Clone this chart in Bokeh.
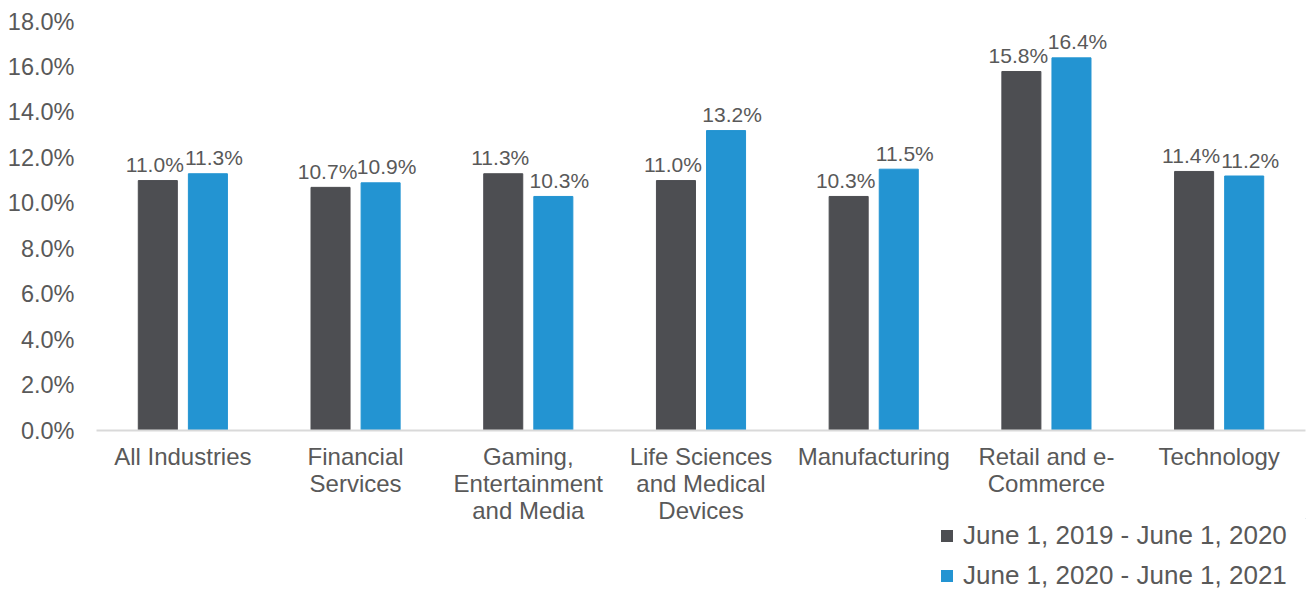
from bokeh.plotting import figure
from bokeh.models import ColumnDataSource, Legend, LegendItem, NumeralTickFormatter, FixedTicker, Range1d
from bokeh.layouts import column
from bokeh.transform import dodge
from bokeh.core.properties import value
from bokeh.embed import file_html
from bokeh.resources import INLINE

categories = ["All Industries", "Financial\nServices", "Gaming,\nEntertainment\nand Media",
              "Life Sciences\nand Medical\nDevices", "Manufacturing", "Retail and e-\nCommerce", "Technology"]
series_2019_2020 = [11.0, 10.7, 11.3, 11.0, 10.3, 15.8, 11.4]
series_2020_2021 = [11.3, 10.9, 10.3, 13.2, 11.5, 16.4, 11.2]
series_names = ["June 1, 2019 - June 1, 2020", "June 1, 2020 - June 1, 2021"]
y_ticks = [0, 2, 4, 6, 8, 10, 12, 14, 16, 18]

DARK = "#4d4e52"
BLUE = "#2394d2"
TXT = "#595959"
FONT = "Liberation Sans"

src = ColumnDataSource(dict(
    cat=categories,
    a=series_2019_2020,
    b=series_2020_2021,
    la=[f"{v:.1f}%" for v in series_2019_2020],
    lb=[f"{v:.1f}%" for v in series_2020_2021],
))

p = figure(x_range=categories, y_range=(0, 18), width=1307, height=528,
           output_backend="svg", toolbar_location=None,
           min_border_left=96, min_border_right=2, min_border_top=21, min_border_bottom=98)
p.outline_line_color = None
p.xgrid.grid_line_color = None
p.ygrid.grid_line_color = None
p.background_fill_color = "white"
p.border_fill_color = "white"

p.vbar(x=dodge("cat", -0.145, range=p.x_range), top="a", width=0.226, source=src,
       fill_color=DARK, line_color=DARK)
p.vbar(x=dodge("cat", 0.145, range=p.x_range), top="b", width=0.226, source=src,
       fill_color=BLUE, line_color=BLUE)

p.text(x=dodge("cat", -0.145, range=p.x_range), y="a", text="la", source=src,
       text_align="center", text_baseline="alphabetic", y_offset=-16, x_offset=-3,
       text_font=value(FONT), text_font_size="21px", text_color=TXT)
p.text(x=dodge("cat", 0.145, range=p.x_range), y="b", text="lb", source=src,
       text_align="center", text_baseline="alphabetic", y_offset=-16, x_offset=6,
       text_font=value(FONT), text_font_size="21px", text_color=TXT)

# axes
p.yaxis.ticker = FixedTicker(ticks=y_ticks)
p.yaxis.formatter = NumeralTickFormatter(format="0.0")
p.yaxis.major_label_overrides = {t: f"{t:.1f}%" for t in y_ticks}
p.yaxis.axis_line_color = None
p.yaxis.major_tick_line_color = None
p.yaxis.minor_tick_line_color = None
p.yaxis.major_label_standoff = 16
p.yaxis.major_label_text_font = FONT
p.yaxis.major_label_text_font_size = "23.5px"
p.yaxis.major_label_text_color = TXT

p.xaxis.axis_line_color = "#d9d9d9"
p.xaxis.axis_line_width = 2
p.xaxis.major_tick_line_color = None
p.xaxis.minor_tick_line_color = None
p.xaxis.major_label_standoff = 6
p.xaxis.major_label_text_font = FONT
p.xaxis.major_label_text_font_size = "24px"
p.xaxis.major_label_text_color = TXT
p.xaxis.major_label_text_line_height = 1.0

# legend strip below the chart (transparent, slightly overlapping the chart's bottom border)
pl = figure(width=1307, height=73, output_backend="svg", toolbar_location=None,
            x_range=Range1d(0, 1), y_range=Range1d(0, 1),
            x_axis_location=None, y_axis_location=None,
            min_border_left=0, min_border_right=0, min_border_top=0, min_border_bottom=0)
pl.margin = (-10, 0, 0, 0)
pl.outline_line_color = None
pl.xgrid.grid_line_color = None
pl.ygrid.grid_line_color = None
pl.background_fill_alpha = 0
pl.border_fill_alpha = 0
d1 = pl.vbar(x=[5], top=[5], bottom=[4], width=0.1, fill_color=DARK, line_color=None)
d2 = pl.vbar(x=[5], top=[5], bottom=[4], width=0.1, fill_color=BLUE, line_color=None)
legend = Legend(items=[LegendItem(label=series_names[0], renderers=[d1]),
                       LegendItem(label=series_names[1], renderers=[d2])],
                location=(843, 0), orientation="vertical",
                glyph_width=15, glyph_height=15, label_standoff=9,
                label_text_font=FONT, label_text_font_size="26px", label_text_color=TXT,
                spacing=9, padding=0, margin=0,
                border_line_color=None, background_fill_alpha=0)
pl.add_layout(legend, "center")

layout = column(p, pl, spacing=0)
open("out.html", "w").write(file_html(layout, INLINE))
